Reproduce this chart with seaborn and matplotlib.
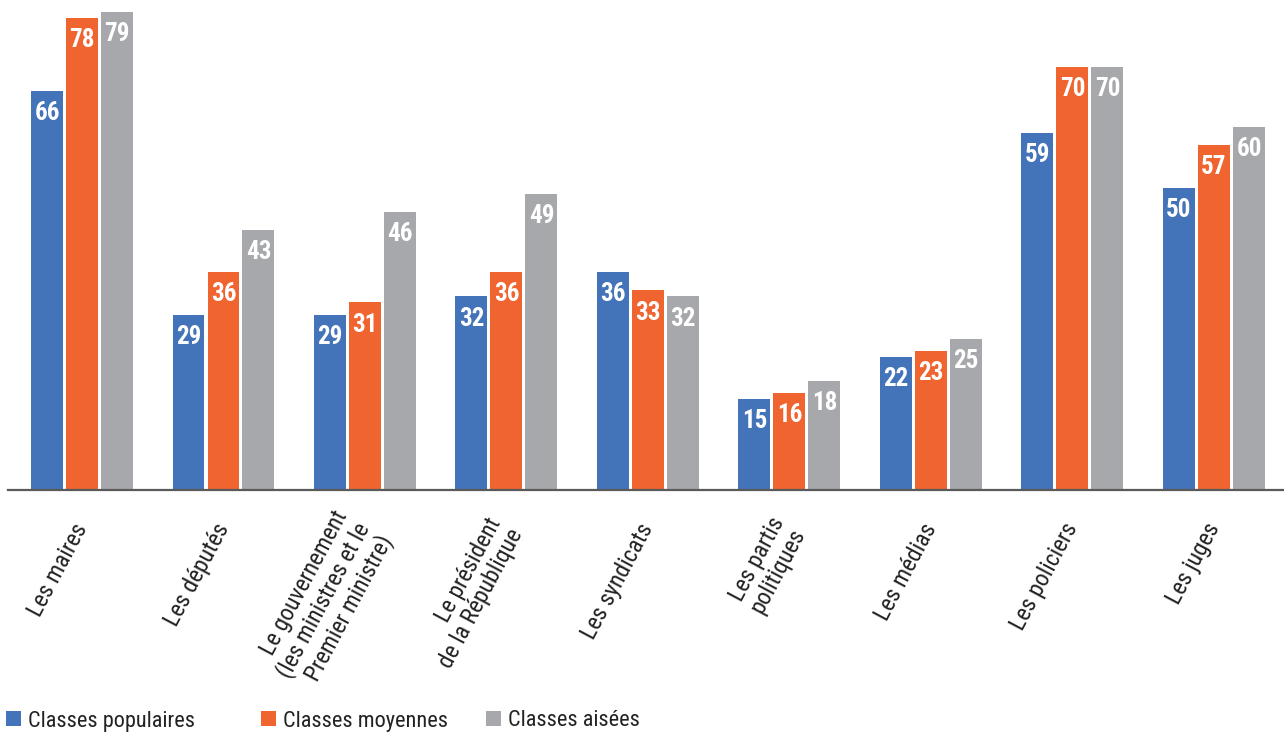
import matplotlib
matplotlib.use("Agg")
import matplotlib.pyplot as plt
import seaborn as sns
import pandas as pd
from matplotlib.patches import Patch

categories = [
    "Les maires",
    "Les députés",
    "Le gouvernement\n(les ministres et le\nPremier ministre)",
    "Le président\nde la République",
    "Les syndicats",
    "Les partis\npolitiques",
    "Les médias",
    "Les policiers",
    "Les juges",
]
series_names = ["Classes populaires", "Classes moyennes", "Classes aisées"]
populaires = [66, 29, 29, 32, 36, 15, 22, 59, 50]
moyennes = [78, 36, 31, 36, 33, 16, 23, 70, 57]
aisees = [79, 43, 46, 49, 32, 18, 25, 70, 60]
colors = ["#4373B8", "#F06430", "#A7A8AB"]

rows = []
for name, vals in zip(series_names, [populaires, moyennes, aisees]):
    for c, v in zip(categories, vals):
        rows.append({"cat": c, "serie": name, "val": v})
df = pd.DataFrame(rows)

sns.set_theme(style="white")
plt.rcParams["font.family"] = ["Roboto Condensed", "DejaVu Sans"]

fig = plt.figure(figsize=(12.84, 7.35), dpi=100)
ax = fig.add_axes([8 / 1284, 1 - 490 / 735, (1284 - 8) / 1284, 490 / 735])

sns.barplot(data=df, x="cat", y="val", hue="serie", order=categories,
            hue_order=series_names, palette=colors, width=0.742, gap=0.086,
            saturation=1, ax=ax, legend=False, linewidth=0)

ax.set_ylim(0, 81)
ax.set_xlim(-0.523, 8.495)
ax.set_xlabel("")
ax.set_ylabel("")
ax.set_yticks([])
for s in ["top", "left", "right"]:
    ax.spines[s].set_visible(False)
ax.spines["bottom"].set_color("#5a5a5a")
ax.spines["bottom"].set_linewidth(1.6)

for cont in ax.containers:
    for p in cont.patches:
        h = p.get_height()
        ax.annotate(f"{h:.0f}", (p.get_x() + p.get_width() / 2, h),
                    xytext=(0, -21), textcoords="offset points",
                    ha="center", va="baseline", color="white",
                    fontsize=18, fontweight="bold")

ax.tick_params(axis="x", length=0, pad=25)
ax.set_xticks(range(len(categories)))
ax.set_xticklabels(categories, rotation=62, ha="right", va="center",
                   rotation_mode="anchor", fontsize=17, color="#222222",
                   linespacing=1.05)

xs = [10, 265, 490]
for name, col, x in zip(series_names, colors, xs):
    fig.legend(handles=[Patch(facecolor=col, edgecolor="none")], labels=[name],
               loc="center left", bbox_to_anchor=(x / 1284 - 0.0065, 1 - 721 / 735),
               frameon=False, fontsize=16, handlelength=0.68, handleheight=0.68,
               handletextpad=0.3, borderaxespad=0, borderpad=0.2,
               labelcolor="#222222")

fig.savefig("out.png", dpi=100)
